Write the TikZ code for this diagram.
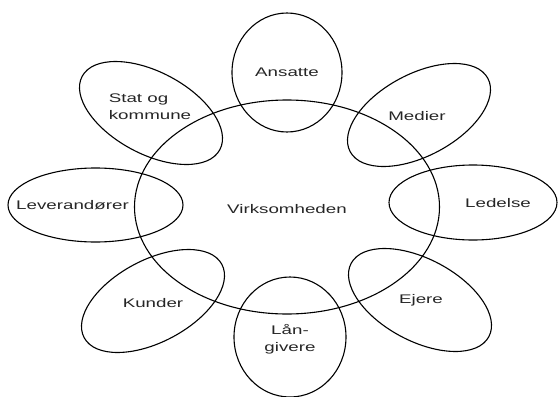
\documentclass[tikz,border=0pt]{standalone}
\usepackage{fontspec}
\newfontfamily\labfont[FakeStretch=1.5]{Liberation Sans}
\begin{document}
\begin{tikzpicture}[x=1pt,y=-1pt,
  ring/.style={draw=black,line width=1.1pt},
  lab/.style={inner sep=0pt,font={\labfont\fontsize{12.5}{17}\selectfont},text=black!85}]
\useasboundingbox[fill=white] (0,0) rectangle (558,397);
% central circle
\draw[ring] (287,207) ellipse [x radius=152.5pt, y radius=107pt];
% surrounding ellipses
\draw[ring] (287,72.5) ellipse [x radius=55pt, y radius=59.5pt];
\draw[ring] (290,337) ellipse [x radius=56pt, y radius=60pt];
\draw[ring] (473,202.5) ellipse [x radius=84pt, y radius=37.5pt];
\draw[ring] (95.5,205) ellipse [x radius=87.5pt, y radius=37pt];
\draw[ring, rotate around={28:(419,115)}] (419,115) ellipse [x radius=78pt, y radius=41pt];
\draw[ring, rotate around={28:(153,301)}] (153,301) ellipse [x radius=78pt, y radius=41pt];
\draw[ring, rotate around={-28:(151,113)}] (151,113) ellipse [x radius=78pt, y radius=41pt];
\draw[ring, rotate around={-28:(420,300)}] (420,300) ellipse [x radius=78pt, y radius=41pt];
% labels
\node[lab] (virk) at (287,209) {Virksomheden};
\node[lab] (ans) at (287,72) {Ansatte};
\node[lab] (med) at (417,116) {Medier};
\node[lab] (led) at (498,203) {Ledelse};
\node[lab] (ej) at (421,300) {Ejere};
\node[lab] (lan) at (290,339) [align=center] {Lån-\\givere};
\node[lab] (kun) at (153,303) {Kunder};
\node[lab] (lev) at (72.5,205) {Leverandører};
\node[lab] (stat) at (150,106.5) [align=left] {Stat og\\kommune};
\end{tikzpicture}
\end{document}
